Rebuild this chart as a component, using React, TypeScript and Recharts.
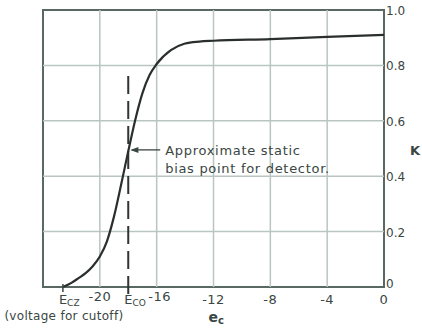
import { LineChart, Line, XAxis, YAxis, ReferenceLine, ReferenceArea, ReferenceDot } from "recharts"

// grid voltage e_c (volts) and K
const ecValues = [-22.6, -22, -21.5, -21, -20.5, -20, -19.5, -19, -18.5, -18, -17.5, -17, -16.5, -16, -15, -14, -13, -12, -8, -4, 0]
const kValues = [0, 0.015, 0.032, 0.05, 0.075, 0.11, 0.165, 0.255, 0.37, 0.49, 0.605, 0.7, 0.765, 0.805, 0.855, 0.879, 0.886, 0.889, 0.895, 0.903, 0.91]

const ecz = -22.6 // voltage for cutoff
const eco = -18 // bias point
const xTicks = [ecz, -20, eco, -16, -12, -8, -4, 0]
const xTickText = ["E", "-20", "E", "-16", "-12", "-8", "-4", "0"]
const xTickSub = ["CZ", "", "CO", "", "", "", "", ""]
const xGrid = [-20, -16, -12, -8, -4]
const kTicks = [0, 0.2, 0.4, 0.6, 0.8, 1.0]
const kGrid = [0.2, 0.4, 0.6, 0.8]
const noteLines = ["Approximate static", "bias point for detector."]

const data = ecValues.map((x, i) => ({ x, k: kValues[i] }))

const FONT = "'DejaVu Sans', sans-serif"
const INK = "#3a4643"
const GRID = "#b9c5c1"
const FRAME = "#5a6864"

function XTick(props: any) {
  const { x, y, payload } = props
  const i = xTicks.indexOf(payload.value)
  if (i < 0) return null
  const sub = xTickSub[i]
  if (sub) {
    return (
      <g fontFamily={FONT} fill={INK}>
        {payload.value === ecz && <line x1={x} x2={x} y1={y - 3} y2={y + 5} stroke={INK} strokeWidth={1.5} />}
        <text x={x - 4} y={y + 12} dominantBaseline="central" fontSize={13}>
          {xTickText[i]}
          <tspan dy={4} fontSize={9}>{sub}</tspan>
        </text>
        {payload.value === ecz && (
          <text x={x + 1} y={y + 29} textAnchor="middle" dominantBaseline="central" fontSize={12} letterSpacing={0.3}>
            (voltage for cutoff)
          </text>
        )}
      </g>
    )
  }
  const raised = payload.value === -20 || payload.value === -16
  return (
    <g fontFamily={FONT} fill={INK}>
      <text
        x={x + (payload.value === -16 ? 3 : 0)}
        y={y + (raised ? 9 : 12)}
        textAnchor="middle"
        dominantBaseline="central"
        fontSize={13}
        letterSpacing={0.5}
      >
        {xTickText[i]}
      </text>
      {payload.value === -12 && (
        <text x={x - 5} y={y + 30} dominantBaseline="central" fontSize={14} fontWeight="bold">
          e<tspan dy={3} fontSize={10}>c</tspan>
        </text>
      )}
    </g>
  )
}

function KTick(props: any) {
  const { x, y, payload } = props
  const v = payload.value
  return (
    <text x={x} y={y + (v === 0 ? -3 : 1)} dominantBaseline="central" fontFamily={FONT} fontSize={12} fill={INK}>
      {v === 0 ? "0" : v.toFixed(1)}
    </text>
  )
}

function Note(props: any) {
  const { cx, cy } = props
  return (
    <g fontFamily={FONT} fontSize={13} fill={INK} letterSpacing={0.7}>
      {noteLines.map((t, i) => (
        <text key={i} x={cx} y={cy + i * 18} dominantBaseline="central">{t}</text>
      ))}
    </g>
  )
}

function ArrowHead(props: any) {
  const { cx, cy } = props
  return <path d={`M${cx},${cy} L${cx + 8},${cy - 3} L${cx + 8},${cy + 3} Z`} fill={INK} />
}

function KLabel(props: any) {
  const { cx, cy } = props
  return (
    <text x={cx + 31} y={cy} textAnchor="middle" dominantBaseline="central" fontFamily={FONT} fontSize={13} fontWeight="bold" fill={INK}>
      K
    </text>
  )
}

export default function App() {
  return (
    <div style={{ position: "absolute", left: 0, top: 0, background: "#fff" }}>
      <LineChart width={422} height={328} data={data} margin={{ top: 10, left: 43, right: 0, bottom: 0 }}>
        <XAxis
          dataKey="x"
          type="number"
          domain={[-24, 0]}
          ticks={xTicks}
          interval={0}
          axisLine={false}
          tickLine={false}
          tickSize={0}
          tickMargin={0}
          height={41}
          tick={<XTick />}
        />
        <YAxis
          orientation="right"
          type="number"
          domain={[0, 1]}
          ticks={kTicks}
          interval={0}
          axisLine={false}
          tickLine={false}
          tickSize={0}
          tickMargin={2}
          width={38}
          tick={<KTick />}
        />
        {xGrid.map((v) => (
          <ReferenceLine key={"x" + v} x={v} stroke={GRID} strokeWidth={1.5} />
        ))}
        {kGrid.map((v) => (
          <ReferenceLine key={"k" + v} y={v} stroke={GRID} strokeWidth={1.5} />
        ))}
        <ReferenceArea x1={-24} x2={0} y1={0} y2={1} fill="none" stroke={FRAME} strokeWidth={2} />
        <ReferenceLine
          segment={[{ x: eco, y: -0.025 }, { x: eco, y: 0.78 }]}
          stroke="#2e3533"
          strokeWidth={2}
          strokeDasharray="18 7"
          ifOverflow="visible"
        />
        <Line type="monotone" dataKey="k" stroke="#2a2f2e" strokeWidth={2.2} dot={false} isAnimationActive={false} />
        <ReferenceLine segment={[{ x: -17.75, y: 0.495 }, { x: -15.75, y: 0.495 }]} stroke={INK} strokeWidth={1.3} />
        <ReferenceDot x={-17.85} y={0.495} r={0} shape={<ArrowHead />} />
        <ReferenceDot x={-15.4} y={0.491} r={0} shape={<Note />} />
        <ReferenceDot x={0} y={0.493} r={0} shape={<KLabel />} ifOverflow="visible" />
      </LineChart>
    </div>
  )
}
